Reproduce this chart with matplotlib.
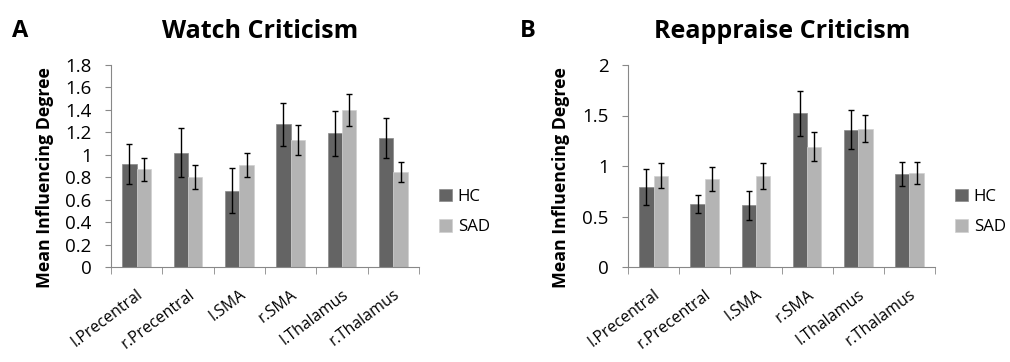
import matplotlib.pyplot as plt
import numpy as np

REGIONS = ['l.Precentral', 'r.Precentral', 'l.SMA', 'r.SMA', 'l.Thalamus', 'r.Thalamus']

# Watch Criticism
WATCH_HC = [0.92, 1.02, 0.68, 1.27, 1.19, 1.15]
WATCH_HC_ERR = [0.18, 0.22, 0.20, 0.19, 0.20, 0.18]
WATCH_SAD = [0.87, 0.80, 0.91, 1.13, 1.40, 0.85]
WATCH_SAD_ERR = [0.10, 0.105, 0.11, 0.135, 0.14, 0.09]

# Reappraise Criticism
REAP_HC = [0.79, 0.625, 0.61, 1.52, 1.36, 0.92]
REAP_HC_ERR = [0.18, 0.092, 0.14, 0.22, 0.195, 0.116]
REAP_SAD = [0.905, 0.87, 0.90, 1.19, 1.37, 0.93]
REAP_SAD_ERR = [0.125, 0.12, 0.13, 0.142, 0.132, 0.106]

HC_COLOR = '#646464'
SAD_COLOR = '#b4b4b4'
AXIS_COLOR = '#888888'

plt.rcParams['font.family'] = ['Open Sans', 'DejaVu Sans']

fig = plt.figure(figsize=(10.1, 3.62), dpi=100)
W, H = 1010.0, 362.0


def panel(rect, hc, hc_err, sad, sad_err, ymax, yticks, yticklabels, title, letter, title_x, letter_x, legend_x, ylabel_x):
    x0, x1, ytop, ybot = rect
    ax = fig.add_axes([x0 / W, 1 - ybot / H, (x1 - x0) / W, (ybot - ytop) / H])
    x = np.arange(len(REGIONS))
    bw = 0.28
    ekw = dict(ecolor='black', elinewidth=1.0, capsize=2.5, capthick=1.0)
    ax.bar(x - bw / 2, hc, bw, color=HC_COLOR, edgecolor='#8a8a8a', linewidth=0.5,
           yerr=hc_err, error_kw=ekw, label='HC')
    ax.bar(x + bw / 2, sad, bw, color=SAD_COLOR, edgecolor='#d0d0d0', linewidth=0.5,
           yerr=sad_err, error_kw=ekw, label='SAD')
    ax.set_xlim(-0.5, len(REGIONS) - 0.5)
    ax.set_ylim(0, ymax)
    ax.set_yticks(yticks)
    ax.set_yticklabels(yticklabels, fontsize=13.5)
    ax.set_xticks(x)
    ax.set_xticklabels(REGIONS, rotation=37, ha='right', rotation_mode='anchor', fontsize=11.5)
    ax.set_xticks(np.arange(-0.5, len(REGIONS)), minor=True)
    ax.tick_params(axis='x', which='major', length=0, pad=14)
    ax.tick_params(axis='x', which='minor', length=5, color=AXIS_COLOR)
    ax.tick_params(axis='y', length=4, color=AXIS_COLOR, pad=10)
    for s in ['top', 'right']:
        ax.spines[s].set_visible(False)
    for s in ['left', 'bottom']:
        ax.spines[s].set_color(AXIS_COLOR)
    ax.set_ylabel('Mean Influencing Degree', fontsize=12.8, fontweight='bold')
    ax.yaxis.set_label_coords((ylabel_x - x0) / (x1 - x0), 1 - (178 - ytop) / (ybot - ytop))
    fig.text(title_x / W, 1 - 31 / H, title, fontsize=18, fontweight='bold', ha='center', va='center')
    fig.text(letter_x / W, 1 - 31 / H, letter, fontsize=17, fontweight='bold', ha='center', va='center')
    ax.legend(loc='center left', bbox_to_anchor=((legend_x - x0) / (x1 - x0), 1 - (212 - ytop) / (ybot - ytop)),
              frameon=False, fontsize=12.2, handlelength=0.75, handleheight=0.75, handletextpad=0.35,
              labelspacing=0.85, borderaxespad=0, borderpad=0)
    return ax


panel((111, 419, 65, 267), WATCH_HC, WATCH_HC_ERR, WATCH_SAD, WATCH_SAD_ERR, 1.8,
      np.arange(0, 1.81, 0.2), ['0', '0.2', '0.4', '0.6', '0.8', '1', '1.2', '1.4', '1.6', '1.8'],
      'Watch Criticism', 'A', 260, 20, 439, 54)
panel((628, 935, 65, 267), REAP_HC, REAP_HC_ERR, REAP_SAD, REAP_SAD_ERR, 2.0,
      [0, 0.5, 1, 1.5, 2], ['0', '0.5', '1', '1.5', '2'],
      'Reappraise Criticism', 'B', 782, 528, 955, 570)

fig.savefig('out.png', dpi=100)
